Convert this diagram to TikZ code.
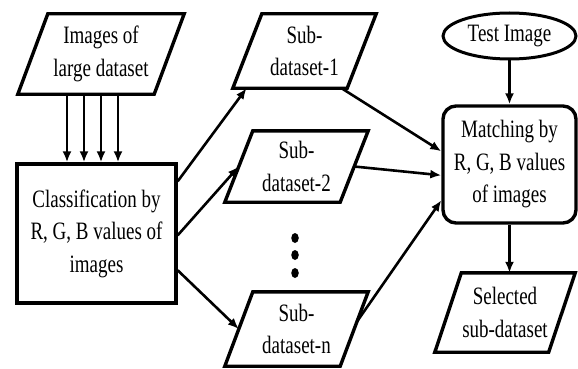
\documentclass[tikz,border=0pt]{standalone}
\usepackage{fontspec}
\setmainfont{Liberation Serif}[FakeStretch=0.76]
\usetikzlibrary{shapes.geometric,arrows.meta,calc}
\newcommand\drawpara[2]{%
  \coordinate (#1-tl) at ($(#1.north west)+(#2,0)$);
  \coordinate (#1-tr) at ($(#1.north east)+(#2,0)$);
  \coordinate (#1-br) at ($(#1.south east)-(#2,0)$);
  \coordinate (#1-bl) at ($(#1.south west)-(#2,0)$);
  \draw[boxline] (#1-tl) -- (#1-tr) -- (#1-br) -- (#1-bl) -- cycle;}
\begin{document}
\begin{tikzpicture}[x=1pt,y=-1pt,
  font=\fontsize{25}{32.5}\selectfont,
  txt/.style={align=center, inner sep=0pt},
  boxline/.style={line width=3.4pt, line join=miter},
  rectbox/.style={draw, line width=3.4pt, align=center, inner sep=0pt},
  arr/.style={line width=2.6pt, -{Latex[length=11pt,width=9pt]}},
  dotnode/.style={ellipse, fill, inner sep=0pt, minimum width=7.5pt, minimum height=10pt}]
\fill[white] (0,0) rectangle (578,369);
\useasboundingbox (0,0) rectangle (578,369);

\node[txt, minimum width=136pt, minimum height=80pt] (img) at (101,54) {Images of\\large dataset};
\drawpara{img}{15}
\node[rectbox, minimum width=159pt, minimum height=139pt] (cls) at (96.5,233.5) {Classification by\\R, G, B values of\\images};

\node[txt, minimum width=114pt, minimum height=74pt] (s1) at (304.5,51) {Sub-\\dataset-1};
\drawpara{s1}{14.5}
\node[txt, minimum width=115pt, minimum height=71pt] (s2) at (296.5,166.5) {Sub-\\dataset-2};
\drawpara{s2}{14}
\node[txt, minimum width=115pt, minimum height=74pt] (sn) at (296.5,329) {Sub-\\dataset-n};
\drawpara{sn}{14}

\node[dotnode] (d1) at (295,238) {};
\node[dotnode] (d2) at (295,255) {};
\node[dotnode] (d3) at (295,273) {};

\node[draw, ellipse, line width=3pt, minimum width=133pt, minimum height=46pt, inner sep=0pt] (test) at (509.5,36) {Test Image};
\node[rectbox, rounded corners=13pt, minimum width=133pt, minimum height=117pt] (match) at (509.5,164.5) {Matching by\\R, G, B values\\of images};
\node[txt, minimum width=113.5pt, minimum height=79pt] (sel) at (505,312.5) {Selected\\sub-dataset};
\drawpara{sel}{13.25}

\foreach \x in {67,84,101,118}
  \draw[arr] (img.south -| \x,0) -- (cls.north -| \x,0);

\draw[arr] ([yshift=-19pt]cls.north east) -- ($(s1-bl)!0.12!(s1-br)$);
\draw[arr] ([yshift=-73pt]cls.north east) -- ($(s2-tl)!0.5!(s2-bl)$);
\draw[arr] ([yshift=-108pt]cls.north east) -- ($(sn-tl)!0.5!(sn-bl)$);

\draw[arr] ($(s1-bl)!0.95!(s1-br)$) -- ([yshift=-47pt]match.north west);
\draw[arr] ($(s2-tr)!0.5!(s2-br)$) -- ([yshift=-71pt]match.north west);
\draw[arr] ($(sn-tr)!0.4!(sn-br)$) -- ([yshift=-96pt]match.north west);

\draw[arr] (test.south) -- (match.north);
\draw[arr] (match.south) -- (match.south |- sel.north);
\end{tikzpicture}
\end{document}
